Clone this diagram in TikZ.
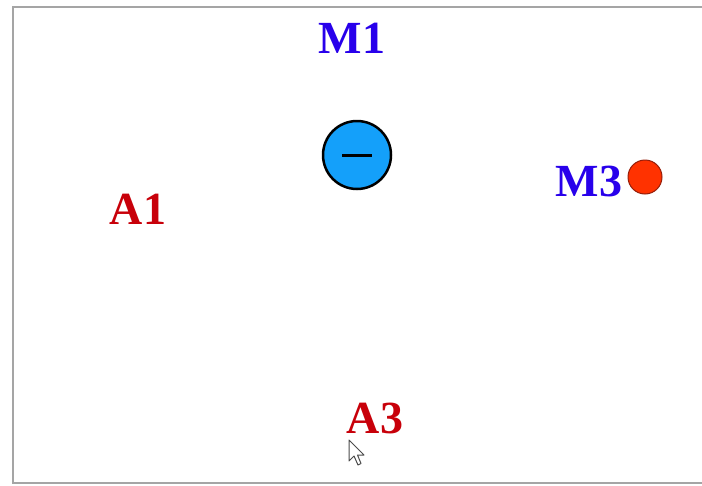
\documentclass[tikz,border=0pt]{standalone}
\usepackage{fontspec}
\setmainfont{Liberation Serif}
\definecolor{mblue}{RGB}{40,0,235}
\definecolor{ared}{RGB}{200,0,10}
\definecolor{cblue}{RGB}{20,160,250}
\definecolor{cred}{RGB}{255,50,0}
\definecolor{framegray}{RGB}{165,165,165}
\begin{document}
\begin{tikzpicture}[x=1pt,y=-1pt,
  mlabel/.style={text=mblue,font=\fontsize{46}{46}\selectfont\bfseries,inner sep=0pt},
  alabel/.style={text=ared,font=\fontsize{46}{46}\selectfont\bfseries,inner sep=0pt}]
\useasboundingbox (0,0) rectangle (702,485);
\fill[white] (0,0) rectangle (702,485);
\draw[framegray,line width=1.5pt] (702,7) -- (13,7) -- (13,483) -- (702,483);
\node[mlabel] (m1) at (352,38) {M1};
\node[mlabel] (m3) at (589,181) {M3};
\node[alabel] (a1) at (138,209) {A1};
\node[alabel] (a3) at (375,418) {A3};
\node[circle,draw=black,line width=2.5pt,fill=cblue,minimum size=68pt,inner sep=0pt] (neg) at (357,155) {};
\draw[black,line width=3pt] ([xshift=-15pt]neg.center) -- ([xshift=15pt]neg.center);
\node[circle,draw={rgb,255:red,150;green,30;blue,10},line width=1pt,fill=cred,minimum size=34pt,inner sep=0pt] (pos) at (645,177) {};
\draw[black!70,fill=white,line width=1pt,line join=round] (349,440) -- (349,461) -- (354,456) -- (358,465) -- (361,463.5) -- (357.5,455) -- (364,455) -- cycle;
\end{tikzpicture}
\end{document}
